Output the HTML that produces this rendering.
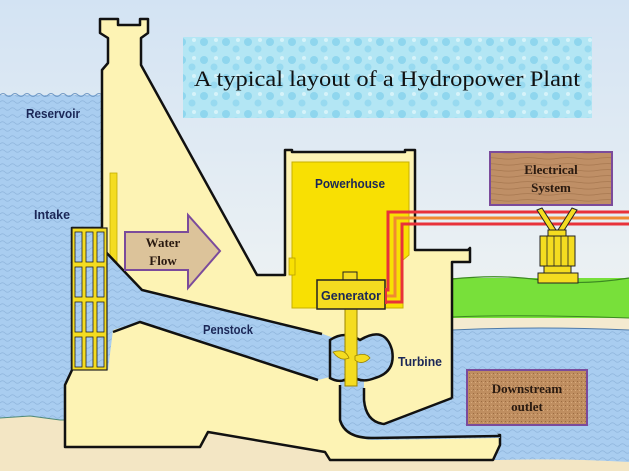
<!DOCTYPE html>
<html><head><meta charset="utf-8"><style>
html,body{margin:0;padding:0;background:#fff}
svg{display:block}
.lbl{font-family:"Liberation Sans",sans-serif;font-weight:bold;fill:#1b2757;font-size:13px}
.ser{font-family:"Liberation Serif",serif;font-weight:bold;fill:#2a1a10;font-size:13px}
</style></head><body>
<svg width="629" height="471" viewBox="0 0 629 471" xmlns="http://www.w3.org/2000/svg">
<defs>
<linearGradient id="sky" x1="0" y1="0" x2="0" y2="1">
<stop offset="0" stop-color="#d3e3f3"/><stop offset="0.55" stop-color="#eaf0f3"/><stop offset="1" stop-color="#f8f6ec"/>
</linearGradient>
<pattern id="wave" width="10" height="7" patternUnits="userSpaceOnUse">
<rect width="10" height="7" fill="#a9cdf0"/>
<path d="M0 4 Q2.5 1.5 5 4 T10 4" fill="none" stroke="#8fb5dc" stroke-width="0.8"/>
</pattern>
<pattern id="wood" width="40" height="6" patternUnits="userSpaceOnUse">
<rect width="40" height="6" fill="#bf8f66"/>
<path d="M0 2 Q10 1 20 2.5 T40 2" stroke="#a77850" stroke-width="0.8" fill="none"/>
</pattern>
<pattern id="cork" width="4" height="4" patternUnits="userSpaceOnUse">
<rect width="4" height="4" fill="#bf8e60"/>
<rect x="1" y="1" width="1" height="1" fill="#9c6c42"/><rect x="3" y="2" width="1" height="1" fill="#d7aa7c"/>
</pattern>
<pattern id="bub" width="22" height="18" patternUnits="userSpaceOnUse">
<rect width="22" height="18" fill="#b3e6f4"/>
<circle cx="6" cy="6" r="4" fill="#8fd6ee"/><circle cx="16" cy="13" r="3.5" fill="#98daf0"/><circle cx="18" cy="4" r="2" fill="#d6f3fa"/>
</pattern>
</defs>
<rect width="629" height="471" fill="url(#sky)"/>
<!-- sand bottom -->
<rect x="0" y="415" width="629" height="56" fill="#f3e6c4"/>
<!-- reservoir -->
<path d="M0 95 L102 95 L102 420 L60 420 L30 416 L0 418 Z" fill="url(#wave)"/>
<path d="M0 95 Q3 92 6 95 T12 95 T18 95 T24 95 T30 95 T36 95 T42 95 T48 95 T54 95 T60 95 T66 95 T72 95 T78 95 T84 95 T90 95 T96 95 T102 95" fill="none" stroke="#6f98c4" stroke-width="1"/>
<path d="M0 418 L30 416 L60 420 L102 420" fill="none" stroke="#4f8a78" stroke-width="1"/>
<!-- downstream ground and water -->
<rect x="452" y="278" width="177" height="42" fill="#78e03a"/>
<path d="M452 279 Q500 274 540 280 T629 278" fill="none" stroke="#3c8a22" stroke-width="1.2"/>
<rect x="452" y="318" width="177" height="12" fill="#f4ead0"/>
<path d="M452 317 Q520 314 629 318" stroke="#3c8a22" stroke-width="1" fill="none"/>
<path d="M452 330 Q540 326 629 330 L629 462 Q560 458 500 460 L452 460 Z" fill="url(#wave)"/>
<path d="M452 330 Q540 326 629 330" stroke="#4f7aa8" stroke-width="1" fill="none"/>
<!-- dam body -->
<path d="M100 19 L118 19 L118 25 L140 25 L140 19 L148 19 L148 33 L141 38 L141 65 L257 275 L285 275 L285 150 L292 150 L292 152 L405 152 L405 150 L415 150 L415 250 L468 250 L470 248 L470 262 L452 262 L452 398 L452 435 L500 435 L500 445 L493 460 L330 460 L325 452 L208 432 L200 447 L65 447 L65 385 L72 370 L72 228 L102 228 L102 70 L108 63 L108 38 L100 33 Z" fill="#fdf3b4" stroke="#111" stroke-width="2.5" stroke-linejoin="round"/>
<!-- powerhouse yellow -->
<path d="M292 162 L409 162 L409 255 L403 260 L403 308 L292 308 Z" fill="#f8e003" stroke="#c7b000" stroke-width="1"/>
<rect x="289" y="258" width="6" height="17" fill="#f8e003" stroke="#b9a000" stroke-width="0.8"/>
<!-- dam yellow bar -->
<rect x="110" y="173" width="7" height="97" fill="#f4dc20" stroke="#c4ad00" stroke-width="0.8"/>
<!-- penstock -->
<path d="M102 248 L142 290 L320 333 L334 338 L334 376 L318 380 L140 322 L113 330 L108 370 L102 370 Z" fill="url(#wave)"/>
<path d="M102 248 L142 290 L322 334" fill="none" stroke="#111" stroke-width="2.5"/>
<path d="M113 332 L140 322 L318 380" fill="none" stroke="#111" stroke-width="2.5"/>
<!-- draft tube -->
<path d="M340 380 L340 420 Q345 438 372 440 L500 438 L500 436 L452 398 L382 424 Q366 420 364 400 L364 380 Z" fill="url(#wave)"/>
<path d="M340 385 L340 420 Q345 438 372 438 L500 436" fill="none" stroke="#111" stroke-width="2.5"/>
<path d="M452 398 L384 424 Q366 422 364 400 L364 388" fill="none" stroke="#111" stroke-width="2.5"/>
<!-- turbine casing -->
<path d="M330 340 Q345 330 360 340 Q385 325 392 350 Q396 372 375 378 Q360 384 352 375 Q342 385 330 378 Z" fill="url(#wave)" stroke="#111" stroke-width="2.5"/>
<!-- shaft and blades -->
<rect x="345" y="308" width="12" height="78" fill="#f4dc20" stroke="#9a8400" stroke-width="1"/>
<path d="M333 352 Q345 348 349 358 Q340 362 333 352 Z" fill="#f4dc20" stroke="#9a8400" stroke-width="0.8"/>
<path d="M355 356 Q366 352 370 358 Q362 366 355 360 Z" fill="#f4dc20" stroke="#9a8400" stroke-width="0.8"/>
<!-- generator -->
<rect x="343" y="272" width="14" height="8" fill="#f4dc20" stroke="#222" stroke-width="1"/>
<rect x="317" y="280" width="68" height="29" fill="#f4dc20" stroke="#222" stroke-width="1.5"/>
<text x="351" y="300" class="lbl" text-anchor="middle" textLength="60" lengthAdjust="spacingAndGlyphs">Generator</text>
<!-- power lines -->
<g fill="none" stroke-width="3">
<path d="M385 290 L388 290 L388 212 L629 212" stroke="#e8323a"/>
<path d="M385 296 L395 296 L395 218 L629 218" stroke="#f08a30"/>
<path d="M385 302 L402 302 L402 224 L629 224" stroke="#e8323a"/>
</g>
<path d="M386 288 L386 304" stroke="#e8323a" stroke-width="2"/>
<!-- intake grate -->
<rect x="72" y="228" width="35" height="142" fill="#f4dc20" stroke="#222" stroke-width="1.2"/>
<g fill="url(#wave)" stroke="#222" stroke-width="0.8">
<rect x="75" y="232" width="7" height="30"/><rect x="86" y="232" width="7" height="30"/><rect x="97" y="232" width="7" height="30"/>
<rect x="75" y="267" width="7" height="30"/><rect x="86" y="267" width="7" height="30"/><rect x="97" y="267" width="7" height="30"/>
<rect x="75" y="302" width="7" height="30"/><rect x="86" y="302" width="7" height="30"/><rect x="97" y="302" width="7" height="30"/>
<rect x="75" y="337" width="7" height="30"/><rect x="86" y="337" width="7" height="30"/><rect x="97" y="337" width="7" height="30"/>
</g>
<!-- transformer -->
<path d="M537 210 L542 208 L556 230 L551 232 Z" fill="#f4dc20" stroke="#222" stroke-width="1"/>
<path d="M577 210 L572 208 L558 230 L563 232 Z" fill="#f4dc20" stroke="#222" stroke-width="1"/>
<rect x="548" y="230" width="18" height="6" fill="#f4dc20" stroke="#222" stroke-width="1"/>
<rect x="540" y="236" width="35" height="30" fill="#f4dc20" stroke="#222" stroke-width="1"/>
<path d="M547 236 V266 M554 236 V266 M561 236 V266 M568 236 V266" stroke="#222" stroke-width="0.8"/>
<rect x="544" y="266" width="27" height="7" fill="#f4dc20" stroke="#222" stroke-width="1"/>
<rect x="538" y="273" width="40" height="10" fill="#f4dc20" stroke="#222" stroke-width="1"/>
<!-- electrical system box -->
<rect x="490" y="152" width="122" height="53" fill="url(#wood)" stroke="#7b4b9b" stroke-width="2"/>
<text x="551" y="174" class="ser" text-anchor="middle">Electrical</text>
<text x="551" y="192" class="ser" text-anchor="middle">System</text>
<!-- downstream box -->
<rect x="467" y="370" width="120" height="55" fill="url(#cork)" stroke="#7b4b9b" stroke-width="2"/>
<text x="527" y="393" class="ser" text-anchor="middle">Downstream</text>
<text x="527" y="411" class="ser" text-anchor="middle">outlet</text>
<!-- water flow arrow -->
<path d="M125 232 L188 232 L188 215 L220 251 L188 288 L188 270 L125 270 Z" fill="#dcc39a" stroke="#7b4b9b" stroke-width="2"/>
<text x="163" y="247" class="ser" text-anchor="middle">Water</text>
<text x="163" y="265" class="ser" text-anchor="middle">Flow</text>
<!-- title box -->
<rect x="183" y="37" width="409" height="81" fill="url(#bub)"/>
<text x="387" y="86" text-anchor="middle" font-family="Liberation Serif, serif" font-size="22" fill="#111" textLength="386" lengthAdjust="spacingAndGlyphs">A typical  layout of a Hydropower Plant</text>
<!-- labels -->
<text x="26" y="118" class="lbl" textLength="54" lengthAdjust="spacingAndGlyphs">Reservoir</text>
<text x="34" y="219" class="lbl" textLength="36" lengthAdjust="spacingAndGlyphs">Intake</text>
<text x="203" y="334" class="lbl" textLength="50" lengthAdjust="spacingAndGlyphs">Penstock</text>
<text x="398" y="366" class="lbl" textLength="44" lengthAdjust="spacingAndGlyphs">Turbine</text>
<text x="315" y="188" class="lbl" textLength="70" lengthAdjust="spacingAndGlyphs">Powerhouse</text>
</svg>
</body></html>
